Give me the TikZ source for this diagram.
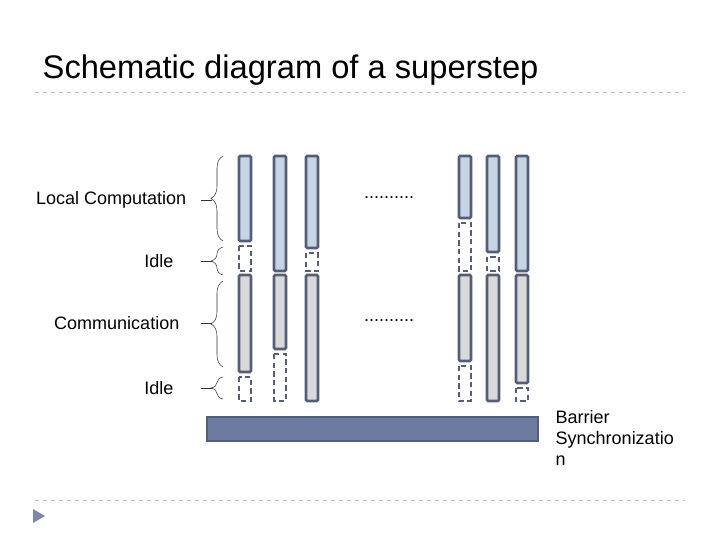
\documentclass[tikz,border=0pt]{standalone}
\usepackage{fontspec}
\setmainfont{Liberation Sans}
\usetikzlibrary{decorations.pathreplacing}
\definecolor{barline}{HTML}{555E78}
\definecolor{compfill}{HTML}{C5D5E4}
\definecolor{commfill}{HTML}{D9D9D9}
\definecolor{barrierfill}{HTML}{6E7BA0}
\tikzset{
  compbar/.style={draw=barline, fill=compfill, line width=2pt, rounded corners=1pt},
  commbar/.style={draw=barline, fill=commfill, line width=2pt, rounded corners=1pt},
  idlebox/.style={draw=barline, dashed, dash pattern=on 4pt off 2.5pt, line width=2pt},
  lbrace/.style={decorate, decoration={brace, amplitude=9pt}, black!80, thin},
  lbl/.style={font=\fontsize{13.5}{16}\selectfont, anchor=east},
}
\begin{document}
\begin{tikzpicture}[x=0.75pt, y=-0.75pt]
    \useasboundingbox (0,0) rectangle (720,540);
    % title and rules
    \node[anchor=west, font=\fontsize{24.5}{28}\selectfont] (title) at (38,70) {Schematic diagram of a superstep};
    \draw[gray!50, dashed] (35,92) -- (685,92);
    \draw[gray!50, dashed] (35,500) -- (685,500);
    \fill[barrierfill!90] (33,509) -- (45,516) -- (33,523) -- cycle;

    % columns: x / end of computation / end of communication
    \foreach \x/\ce/\me [count=\i] in {245/241/372, 280/271/349, 312/248/401,
                                       465/218/361, 493/252/401, 522/271/383} {
      \draw[compbar] (\x-6,156) rectangle (\x+6,\ce);
      \draw[commbar] (\x-6,275) rectangle (\x+6,\me);
      \ifnum\ce<265 \draw[idlebox] (\x-6,\ce+5) rectangle (\x+6,271); \fi
      \ifnum\me<395 \draw[idlebox] (\x-6,\me+5) rectangle (\x+6,401); \fi
    }

    % dots
    \node (dotsa) at (389,198) {\fontsize{13.5}{16}\selectfont ..........};
    \node (dotsb) at (389,321) {\fontsize{13.5}{16}\selectfont ..........};

    % barrier
    \draw[draw=barline, fill=barrierfill, line width=2pt] (207,417) rectangle (538,441);
    \node[anchor=north west, align=left, font=\fontsize{13.5}{15.5}\selectfont] (barrier) at (551,406)
        {Barrier\\Synchronizatio\\n};

    % braces with labels
    \foreach \top/\bot/\mid/\txt/\ex [count=\i] in {156/241/200/Local Computation/191,
                                          247/275/261/Idle/178,
                                          281/367/323/Communication/184,
                                          377/399/388/Idle/178} {
      \draw[lbrace] (223,\bot) -- (223,\top);
      \draw[black!80, thin] (201,\mid) -- (212,\mid);
      \node[lbl] (phase\i) at (\ex,\mid) {\txt};
    }
\end{tikzpicture}
\end{document}
